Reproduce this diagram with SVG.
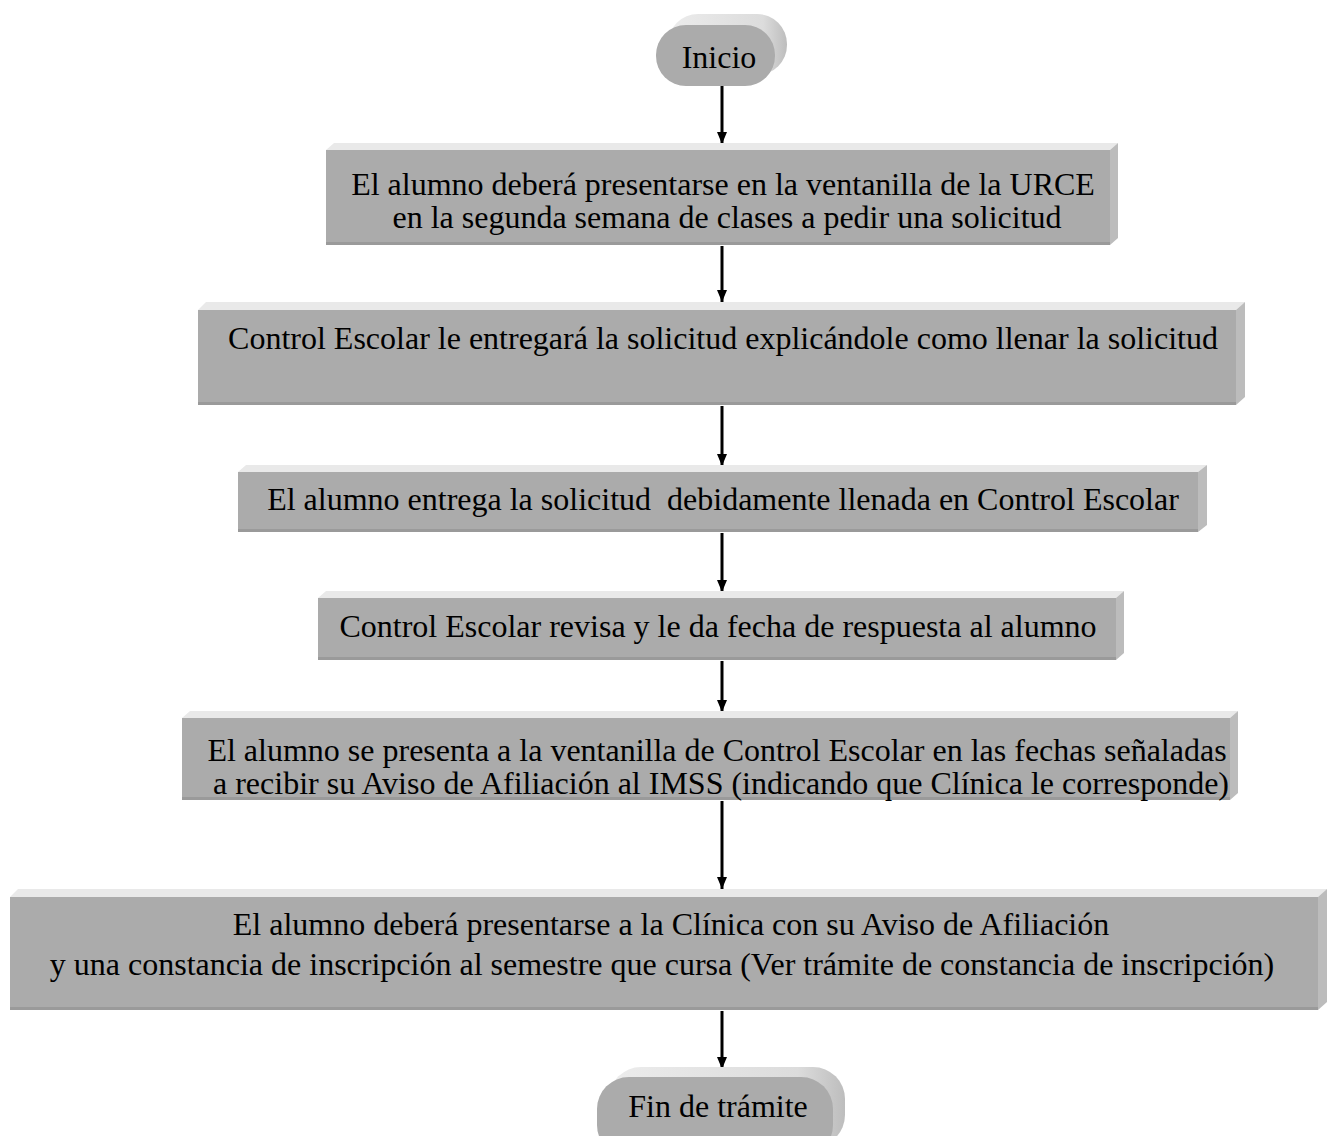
<svg xmlns="http://www.w3.org/2000/svg" width="1327" height="1136" viewBox="0 0 1327 1136">
<defs>
<style>
.front{fill:#ababab}
.top{fill:#e9e9e9}
.side{fill:#bcbcbc}
.edge{fill:#9a9a9a}
.back{fill:url(#tg)}
.t{font-family:"Liberation Serif","Times New Roman",serif;font-size:32px;fill:#000;text-anchor:middle}
.c{stroke:#000;stroke-width:3;fill:none}
</style>
<linearGradient id="tg" x1="0" y1="0" x2="1" y2="0">
<stop offset="0" stop-color="#ececec"/>
<stop offset="0.8" stop-color="#dcdcdc"/>
<stop offset="1" stop-color="#bdbdbd"/>
</linearGradient>
<marker id="ah" markerWidth="12" markerHeight="10" refX="12" refY="5" orient="auto" markerUnits="userSpaceOnUse" viewBox="0 0 12 10">
<path d="M0,0 L12,5 L0,10 Z" fill="#000"/>
</marker>
</defs>
<rect width="1327" height="1136" fill="#fff"/>

<g id="connectors">
<line class="c" x1="722" y1="86" x2="722" y2="144" marker-end="url(#ah)"/>
<line class="c" x1="722" y1="246" x2="722" y2="302" marker-end="url(#ah)"/>
<line class="c" x1="722" y1="406" x2="722" y2="466" marker-end="url(#ah)"/>
<line class="c" x1="722" y1="533" x2="722" y2="592" marker-end="url(#ah)"/>
<line class="c" x1="722" y1="661" x2="722" y2="712" marker-end="url(#ah)"/>
<line class="c" x1="722" y1="801" x2="722" y2="889" marker-end="url(#ah)"/>
<line class="c" x1="722" y1="1011" x2="722" y2="1069" marker-end="url(#ah)"/>
</g>

<g id="inicio">
<rect class="back" x="668" y="14" width="119" height="61" rx="30" ry="30"/>
<rect class="front" x="656" y="25" width="119" height="61" rx="30" ry="30"/>
<text class="t" x="719" y="68">Inicio</text>
</g>

<g id="n1">
<path class="top" d="M326,150 L334,143 L1118,143 L1110,150 Z"/>
<path class="side" d="M1110,150 L1118,143 L1118,238 L1110,245 Z"/>
<rect class="front" x="326" y="150" width="784" height="95"/>
<rect class="edge" x="326" y="242" width="784" height="3"/>
<text class="t" x="723" y="195">El alumno deberá presentarse en la ventanilla de la URCE</text>
<text class="t" x="727" y="228">en la segunda semana de clases a pedir una solicitud</text>
</g>

<g id="n2">
<path class="top" d="M198,310 L206,302 L1245,302 L1236,310 Z"/>
<path class="side" d="M1236,310 L1245,302 L1245,397 L1236,405 Z"/>
<rect class="front" x="198" y="310" width="1038" height="95"/>
<rect class="edge" x="198" y="402" width="1038" height="3"/>
<text class="t" x="723" y="349">Control Escolar le entregará la solicitud explicándole como llenar la solicitud</text>
</g>

<g id="n3">
<path class="top" d="M238,472 L246,465 L1207,465 L1198,472 Z"/>
<path class="side" d="M1198,472 L1207,465 L1207,525 L1198,532 Z"/>
<rect class="front" x="238" y="472" width="960" height="60"/>
<rect class="edge" x="238" y="529" width="960" height="3"/>
<text class="t" x="723" y="510" xml:space="preserve">El alumno entrega la solicitud  debidamente llenada en Control Escolar</text>
</g>

<g id="n4">
<path class="top" d="M318,598 L326,591 L1124,591 L1116,598 Z"/>
<path class="side" d="M1116,598 L1124,591 L1124,653 L1116,660 Z"/>
<rect class="front" x="318" y="598" width="798" height="62"/>
<rect class="edge" x="318" y="657" width="798" height="3"/>
<text class="t" x="718" y="637">Control Escolar revisa y le da fecha de respuesta al alumno</text>
</g>

<g id="n5">
<path class="top" d="M182,718 L190,711 L1238,711 L1230,718 Z"/>
<path class="side" d="M1230,718 L1238,711 L1238,793 L1230,800 Z"/>
<rect class="front" x="182" y="718" width="1048" height="82"/>
<rect class="edge" x="182" y="797" width="1048" height="3"/>
<text class="t" x="717" y="761">El alumno se presenta a la ventanilla de Control Escolar en las fechas señaladas</text>
<text class="t" x="721" y="794">a recibir su Aviso de Afiliación al IMSS (indicando que Clínica le corresponde)</text>
</g>

<g id="n6">
<path class="top" d="M10,897 L18,889 L1327,889 L1318,897 Z"/>
<path class="side" d="M1318,897 L1327,889 L1327,1002 L1318,1010 Z"/>
<rect class="front" x="10" y="897" width="1308" height="113"/>
<rect class="edge" x="10" y="1007" width="1308" height="3"/>
<text class="t" x="671" y="935">El alumno deberá presentarse a la Clínica con su Aviso de Afiliación</text>
<text class="t" x="662" y="975">y una constancia de inscripción al semestre que cursa (Ver trámite de constancia de inscripción)</text>
</g>

<g id="fin">
<rect class="back" x="609" y="1067" width="236" height="80" rx="32" ry="32"/>
<rect class="front" x="597" y="1077" width="236" height="80" rx="32" ry="32"/>
<text class="t" x="718" y="1117">Fin de trámite</text>
</g>
</svg>
